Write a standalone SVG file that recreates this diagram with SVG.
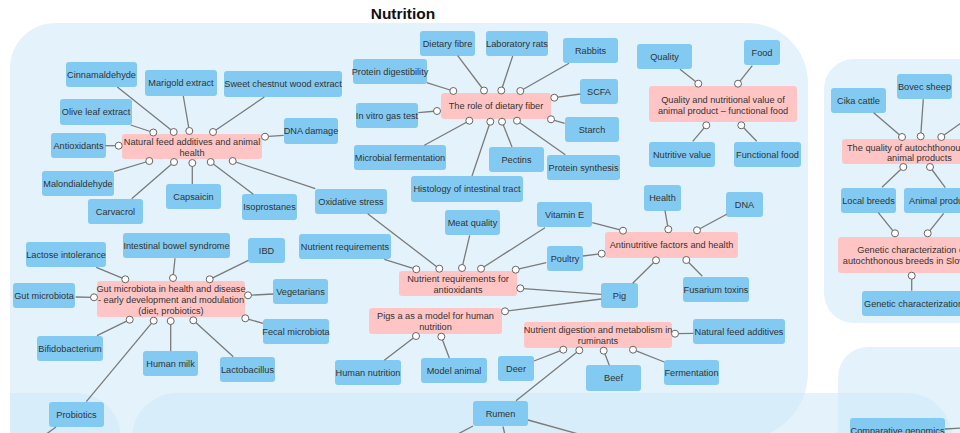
<svg xmlns="http://www.w3.org/2000/svg" width="960" height="433" viewBox="0 0 960 433">
<style>
.reg{fill:#e4f3fb}
.reg2{fill:#c9e7f7;fill-opacity:0.5}
.n rect{fill:#82caf1}
.p rect{fill:#ffc5c5}
text{font-family:"Liberation Sans",Arial,sans-serif;font-size:9.2px;fill:#333;text-anchor:middle}
.st{text-anchor:start}
.title{font-size:15.5px;font-weight:bold;fill:#111}
.c line{stroke:#7a7a7a;stroke-width:1.3}
.c circle{fill:#fff;stroke:#666;stroke-width:1}
</style>
<rect width="960" height="433" fill="#fff"/>
<g id="regions">
<path class="reg" d="M10,68 A45,45 0 0 1 55,23 H748 A60,60 0 0 1 808,83 V373 A66,66 0 0 1 742,439 H10 Z"/>
<rect class="reg" x="824" y="59" width="200" height="264" rx="30"/>
<rect class="reg2" x="838" y="347" width="200" height="150" rx="30"/>
<path class="reg2" d="M10,393 H76 A45,45 0 0 1 121,438 V450 H10 Z"/>
<path class="reg2" d="M132,450 V438 A45,45 0 0 1 177,393 H907 A45,45 0 0 1 952,438 V450 Z"/>
</g>
<text class="title" x="403" y="19">Nutrition</text>
<g id="nodes">
<g id="n-cinnamaldehyde" class="n"><rect x="66" y="62" width="71" height="25" rx="3"/><text x="101.5" y="77.8">Cinnamaldehyde</text></g>
<g id="n-marigold" class="n"><rect x="145" y="70" width="72" height="26" rx="3"/><text x="181" y="86.3">Marigold extract</text></g>
<g id="n-chestnut" class="n"><rect x="224" y="71" width="118" height="26" rx="3"/><text x="283" y="87.3">Sweet chestnut wood extract</text></g>
<g id="n-olive" class="n"><rect x="60" y="99" width="72" height="26" rx="3"/><text x="96" y="115.3">Olive leaf extract</text></g>
<g id="n-dnadamage" class="n"><rect x="284" y="118" width="54" height="26" rx="3"/><text x="311" y="134.3">DNA damage</text></g>
<g id="n-antioxidants" class="n"><rect x="51" y="133" width="55" height="25" rx="3"/><text x="78.5" y="148.8">Antioxidants</text></g>
<g id="n-malondialdehyde" class="n"><rect x="42" y="171" width="72" height="25" rx="3"/><text x="78" y="186.8">Malondialdehyde</text></g>
<g id="n-carvacrol" class="n"><rect x="88" y="199" width="55" height="25" rx="3"/><text x="115.5" y="214.8">Carvacrol</text></g>
<g id="n-capsaicin" class="n"><rect x="166" y="184" width="55" height="25" rx="3"/><text x="193.5" y="199.8">Capsaicin</text></g>
<g id="n-isoprostanes" class="n"><rect x="242" y="194" width="55" height="26" rx="3"/><text x="269.5" y="210.3">Isoprostanes</text></g>
<g id="n-oxidative" class="n"><rect x="315" y="189" width="72" height="25" rx="3"/><text x="351" y="204.8">Oxidative stress</text></g>
<g id="n-dietaryfibre" class="n"><rect x="420" y="31" width="55" height="25" rx="3"/><text x="447.5" y="46.8">Dietary fibre</text></g>
<g id="n-labrats" class="n"><rect x="486" y="31" width="62" height="25" rx="3"/><text x="517" y="46.8">Laboratory rats</text></g>
<g id="n-rabbits" class="n"><rect x="563" y="38" width="55" height="25" rx="3"/><text x="590.5" y="53.8">Rabbits</text></g>
<g id="n-protdig" class="n"><rect x="353" y="59" width="74" height="25" rx="3"/><text x="390" y="74.8">Protein digestibility</text></g>
<g id="n-scfa" class="n"><rect x="580" y="79" width="38" height="25" rx="3"/><text x="599" y="94.8">SCFA</text></g>
<g id="n-invitro" class="n"><rect x="356" y="103" width="62" height="25" rx="3"/><text x="387" y="118.8">In vitro gas test</text></g>
<g id="n-starch" class="n"><rect x="565" y="117" width="54" height="25" rx="3"/><text x="592" y="132.8">Starch</text></g>
<g id="n-microbial" class="n"><rect x="354" y="145" width="92" height="25" rx="3"/><text x="400" y="160.8">Microbial fermentation</text></g>
<g id="n-pectins" class="n"><rect x="489" y="147" width="55" height="25" rx="3"/><text x="516.5" y="162.8">Pectins</text></g>
<g id="n-protsyn" class="n"><rect x="547" y="155" width="73" height="25" rx="3"/><text x="583.5" y="170.8">Protein synthesis</text></g>
<g id="n-histology" class="n"><rect x="411" y="176" width="112" height="26" rx="3"/><text x="467" y="192.3">Histology of intestinal tract</text></g>
<g id="n-quality" class="n"><rect x="637" y="44" width="55" height="25" rx="3"/><text x="664.5" y="59.8">Quality</text></g>
<g id="n-food" class="n"><rect x="744" y="40" width="36" height="25" rx="3"/><text x="762" y="55.8">Food</text></g>
<g id="n-nutritive" class="n"><rect x="649" y="142" width="66" height="25" rx="3"/><text x="682" y="157.8">Nutritive value</text></g>
<g id="n-functional" class="n"><rect x="734" y="142" width="67" height="25" rx="3"/><text x="767.5" y="157.8">Functional food</text></g>
<g id="n-health" class="n"><rect x="644" y="185" width="37" height="26" rx="3"/><text x="662.5" y="201.3">Health</text></g>
<g id="n-dna" class="n"><rect x="726" y="192" width="37" height="25" rx="3"/><text x="744.5" y="207.8">DNA</text></g>
<g id="n-fusarium" class="n"><rect x="683" y="277" width="66" height="25" rx="3"/><text x="716" y="292.8">Fusarium toxins</text></g>
<g id="n-pig" class="n"><rect x="601" y="283" width="37" height="25" rx="3"/><text x="619.5" y="298.8">Pig</text></g>
<g id="n-vitamine" class="n"><rect x="537" y="202" width="55" height="25" rx="3"/><text x="564.5" y="217.8">Vitamin E</text></g>
<g id="n-poultry" class="n"><rect x="547" y="246" width="36" height="25" rx="3"/><text x="565" y="261.8">Poultry</text></g>
<g id="n-nfa2" class="n"><rect x="693" y="319" width="92" height="25" rx="3"/><text x="739" y="334.8">Natural feed additives</text></g>
<g id="n-deer" class="n"><rect x="498" y="356" width="36" height="25" rx="3"/><text x="516" y="371.8">Deer</text></g>
<g id="n-beef" class="n"><rect x="586" y="365" width="55" height="26" rx="3"/><text x="613.5" y="381.3">Beef</text></g>
<g id="n-fermentation" class="n"><rect x="664" y="360" width="55" height="25" rx="3"/><text x="691.5" y="375.8">Fermentation</text></g>
<g id="n-rumen" class="n"><rect x="473" y="401" width="55" height="25" rx="3"/><text x="500.5" y="416.8">Rumen</text></g>
<g id="n-meatquality" class="n"><rect x="445" y="210" width="55" height="25" rx="3"/><text x="472.5" y="225.8">Meat quality</text></g>
<g id="n-nutreq" class="n"><rect x="299" y="234" width="92" height="25" rx="3"/><text x="345" y="249.8">Nutrient requirements</text></g>
<g id="n-humannutrition" class="n"><rect x="335" y="360" width="66" height="25" rx="3"/><text x="368" y="375.8">Human nutrition</text></g>
<g id="n-modelanimal" class="n"><rect x="421" y="358" width="66" height="25" rx="3"/><text x="454" y="373.8">Model animal</text></g>
<g id="n-lactose" class="n"><rect x="26" y="242" width="80" height="25" rx="3"/><text x="66" y="257.8">Lactose intolerance</text></g>
<g id="n-ibs" class="n"><rect x="123" y="233" width="107" height="25" rx="3"/><text x="176.5" y="248.8">Intestinal bowel syndrome</text></g>
<g id="n-ibd" class="n"><rect x="248" y="238" width="37" height="25" rx="3"/><text x="266.5" y="253.8">IBD</text></g>
<g id="n-gutmicrobiota" class="n"><rect x="13" y="283" width="62" height="25" rx="3"/><text x="44" y="298.8">Gut microbiota</text></g>
<g id="n-vegetarians" class="n"><rect x="273" y="279" width="55" height="25" rx="3"/><text x="300.5" y="294.8">Vegetarians</text></g>
<g id="n-fecal" class="n"><rect x="263" y="319" width="66" height="25" rx="3"/><text x="296" y="334.8">Fecal microbiota</text></g>
<g id="n-bifido" class="n"><rect x="37" y="336" width="66" height="25" rx="3"/><text x="70" y="351.8">Bifidobacterium</text></g>
<g id="n-humanmilk" class="n"><rect x="143" y="351" width="55" height="25" rx="3"/><text x="170.5" y="366.8">Human milk</text></g>
<g id="n-lactobacillus" class="n"><rect x="220" y="357" width="55" height="25" rx="3"/><text x="247.5" y="372.8">Lactobacillus</text></g>
<g id="n-probiotics" class="n"><rect x="49" y="402" width="55" height="25" rx="3"/><text x="76.5" y="417.8">Probiotics</text></g>
<g id="n-cika" class="n"><rect x="831" y="88" width="55" height="25" rx="3"/><text x="858.5" y="103.8">Cika cattle</text></g>
<g id="n-bovec" class="n"><rect x="897" y="74" width="55" height="25" rx="3"/><text x="924.5" y="89.8">Bovec sheep</text></g>
<g id="n-localbreeds" class="n"><rect x="841" y="188" width="55" height="25" rx="3"/><text x="868.5" y="203.8">Local breeds</text></g>
<g id="n-animalproducts" class="n"><rect x="904" y="188" width="80" height="25" rx="3"/><text class="st" x="909" y="203.8">Animal products</text></g>
<g id="n-geneticchar" class="n"><rect x="862" y="291" width="110" height="25" rx="3"/><text class="st" x="864" y="306.8">Genetic characterization</text></g>
<g id="n-compgenomics" class="n"><rect x="850" y="418" width="95" height="25" rx="3"/><text x="897.5" y="433.8">Comparative genomics</text></g>

<g id="p-natural" class="p"><rect x="122" y="134" width="140" height="25" rx="3"/><text x="192" y="145"><tspan x="192">Natural feed additives and animal</tspan><tspan x="192" dy="11">health</tspan></text></g>
<g id="p-fiber" class="p"><rect x="441" y="93" width="110" height="26" rx="3"/><text x="496" y="109.3">The role of dietary fiber</text></g>
<g id="p-qualityvalue" class="p"><rect x="649" y="86" width="148" height="36" rx="3"/><text x="723" y="103.3"><tspan x="723">Quality and nutritional value of</tspan><tspan x="723" dy="10.8">animal product – functional food</tspan></text></g>
<g id="p-antinutritive" class="p"><rect x="605" y="232" width="133" height="26" rx="3"/><text x="671.5" y="248.3">Antinutritive factors and health</text></g>
<g id="p-nutreqanti" class="p"><rect x="399" y="271" width="118" height="25" rx="3"/><text x="458" y="282"><tspan x="458">Nutrient requirements for</tspan><tspan x="458" dy="11">antioxidants</tspan></text></g>
<g id="p-pigsmodel" class="p"><rect x="369" y="308" width="133" height="26" rx="3"/><text x="435.5" y="319.3"><tspan x="435.5">Pigs a as a model for human</tspan><tspan x="435.5" dy="11">nutrition</tspan></text></g>
<g id="p-ruminants" class="p"><rect x="524" y="322" width="148" height="26" rx="3"/><text x="598" y="333.3"><tspan x="598">Nutrient digestion and metabolism in</tspan><tspan x="598" dy="11">ruminants</tspan></text></g>
<g id="p-gut" class="p"><rect x="97" y="281" width="148" height="36" rx="3"/><text x="171" y="292"><tspan x="171">Gut microbiota in health and disease</tspan><tspan x="171" dy="11">- early development and modulation</tspan><tspan x="171" dy="11">(diet, probiotics)</tspan></text></g>
<g id="p-autochthonous" class="p"><rect x="842" y="139" width="156" height="25" rx="3"/><text class="st" x="847" y="150.6"><tspan x="847">The quality of autochthonous</tspan><tspan x="887" dy="10.7">animal products</tspan></text></g>
<g id="p-genetic" class="p"><rect x="838" y="237" width="148" height="36" rx="3"/><text x="912" y="253.3"><tspan x="912">Genetic characterization of</tspan><tspan x="912" dy="10.7">autochthonous breeds in Slovenia</tspan></text></g>
</g>
<g id="connectors" class="c">
<line x1="117.3" y1="87" x2="173.7" y2="132"/>
<line x1="130.7" y1="125" x2="153.3" y2="132.5"/>
<line x1="183.3" y1="96" x2="189.3" y2="131"/>
<line x1="264.3" y1="97" x2="213" y2="132"/>
<line x1="283.7" y1="135.3" x2="265" y2="136.7"/>
<line x1="105.3" y1="145.7" x2="118.7" y2="145.7"/>
<line x1="114" y1="171.7" x2="149.3" y2="161"/>
<line x1="131.7" y1="198.7" x2="174" y2="162"/>
<line x1="192.3" y1="184" x2="192.3" y2="163"/>
<line x1="253.3" y1="194.3" x2="210.7" y2="162"/>
<line x1="315.3" y1="188.7" x2="232.7" y2="161"/>
<line x1="426.7" y1="82.7" x2="453.3" y2="91"/>
<line x1="457.7" y1="55.7" x2="484" y2="90.5"/>
<line x1="512.7" y1="56" x2="501.3" y2="90.5"/>
<line x1="569" y1="63.3" x2="520.3" y2="91"/>
<line x1="580.3" y1="94" x2="554.3" y2="97.7"/>
<line x1="564.7" y1="123.3" x2="551" y2="119.3"/>
<line x1="418.3" y1="112.7" x2="437" y2="111"/>
<line x1="424.3" y1="145.3" x2="469.3" y2="120.7"/>
<line x1="472" y1="176" x2="490.3" y2="121.7"/>
<line x1="512" y1="147" x2="502" y2="121.7"/>
<line x1="565.3" y1="154.7" x2="517" y2="120.7"/>
<line x1="680" y1="69.3" x2="698.3" y2="83.7"/>
<line x1="752.3" y1="65.7" x2="738" y2="83.7"/>
<line x1="692.7" y1="141.3" x2="706.3" y2="125.3"/>
<line x1="756.7" y1="141.3" x2="741.3" y2="125.3"/>
<line x1="592.3" y1="222.7" x2="623" y2="230.7"/>
<line x1="665" y1="210.7" x2="668.3" y2="229.3"/>
<line x1="726.7" y1="214.3" x2="697" y2="230.3"/>
<line x1="583" y1="256" x2="601.7" y2="253.7"/>
<line x1="632.7" y1="283.3" x2="656" y2="260.3"/>
<line x1="702.3" y1="276.3" x2="686.3" y2="260"/>
<line x1="384.3" y1="259.3" x2="416.3" y2="269.3"/>
<line x1="367.7" y1="213.7" x2="439.3" y2="268.7"/>
<line x1="469.7" y1="235.3" x2="462" y2="268"/>
<line x1="545" y1="227.7" x2="481" y2="268.7"/>
<line x1="546.3" y1="262.7" x2="515.7" y2="269.7"/>
<line x1="601.3" y1="294.3" x2="520.3" y2="288.3"/>
<line x1="601.3" y1="299" x2="505" y2="311.3"/>
<line x1="384.3" y1="360.3" x2="416" y2="336"/>
<line x1="449.3" y1="358" x2="441.3" y2="336.7"/>
<line x1="693.3" y1="333.3" x2="675" y2="333.7"/>
<line x1="534" y1="361" x2="563.3" y2="349.7"/>
<line x1="516" y1="400.7" x2="579.3" y2="350.3"/>
<line x1="609.3" y1="365.3" x2="603.7" y2="350.7"/>
<line x1="664.3" y1="362" x2="633" y2="349.7"/>
<line x1="96.3" y1="267.3" x2="125.3" y2="279.3"/>
<line x1="175" y1="258.3" x2="173" y2="278"/>
<line x1="248.3" y1="260.3" x2="209.7" y2="279.3"/>
<line x1="75.7" y1="297" x2="94" y2="297.3"/>
<line x1="273.3" y1="294" x2="248" y2="295.3"/>
<line x1="263" y1="323.3" x2="245.3" y2="318.3"/>
<line x1="97" y1="335.7" x2="129.7" y2="319.7"/>
<line x1="86.3" y1="401.7" x2="153.7" y2="320.7"/>
<line x1="170.7" y1="351" x2="170.7" y2="321"/>
<line x1="233.3" y1="356.7" x2="193.3" y2="320.3"/>
<line x1="873.7" y1="112.7" x2="902" y2="137"/>
<line x1="923.3" y1="99.3" x2="920.7" y2="136.3"/>
<line x1="962" y1="122.3" x2="941.3" y2="137"/>
<line x1="882" y1="187.3" x2="903.3" y2="167"/>
<line x1="945.3" y1="187.7" x2="930" y2="167"/>
<line x1="878.3" y1="212.7" x2="895" y2="233.3"/>
<line x1="943.7" y1="213.3" x2="927.7" y2="233.3"/>
<line x1="911.7" y1="290.7" x2="911.7" y2="275.7"/>
<line x1="56" y1="427" x2="45" y2="435"/>
<line x1="473" y1="426" x2="456" y2="435"/>
<line x1="503" y1="426.5" x2="505" y2="435"/>
<line x1="528" y1="420" x2="582" y2="435"/>
<line x1="945" y1="429" x2="962" y2="428"/>
<circle cx="173.7" cy="132" r="3.5"/><circle cx="153.3" cy="132.5" r="3.5"/><circle cx="189.3" cy="131" r="3.5"/><circle cx="213" cy="132" r="3.5"/><circle cx="265" cy="136.7" r="3.5"/><circle cx="118.7" cy="145.7" r="3.5"/><circle cx="149.3" cy="161" r="3.5"/><circle cx="174" cy="162" r="3.5"/><circle cx="192.3" cy="163" r="3.5"/><circle cx="210.7" cy="162" r="3.5"/><circle cx="232.7" cy="161" r="3.5"/>
<circle cx="453.3" cy="91" r="3.5"/><circle cx="484" cy="90.5" r="3.5"/><circle cx="501.3" cy="90.5" r="3.5"/><circle cx="520.3" cy="91" r="3.5"/><circle cx="554.3" cy="97.7" r="3.5"/><circle cx="551" cy="119.3" r="3.5"/><circle cx="437" cy="111" r="3.5"/><circle cx="469.3" cy="120.7" r="3.5"/><circle cx="490.3" cy="121.7" r="3.5"/><circle cx="502" cy="121.7" r="3.5"/><circle cx="517" cy="120.7" r="3.5"/>
<circle cx="698.3" cy="83.7" r="3.5"/><circle cx="738" cy="83.7" r="3.5"/><circle cx="706.3" cy="125.3" r="3.5"/><circle cx="741.3" cy="125.3" r="3.5"/>
<circle cx="623" cy="230.7" r="3.5"/><circle cx="668.3" cy="229.3" r="3.5"/><circle cx="697" cy="230.3" r="3.5"/><circle cx="601.7" cy="253.7" r="3.5"/><circle cx="656" cy="260.3" r="3.5"/><circle cx="686.3" cy="260" r="3.5"/>
<circle cx="416.3" cy="269.3" r="3.5"/><circle cx="439.3" cy="268.7" r="3.5"/><circle cx="462" cy="268" r="3.5"/><circle cx="481" cy="268.7" r="3.5"/><circle cx="515.7" cy="269.7" r="3.5"/><circle cx="520.3" cy="288.3" r="3.5"/>
<circle cx="505" cy="311.3" r="3.5"/><circle cx="416" cy="336" r="3.5"/><circle cx="441.3" cy="336.7" r="3.5"/>
<circle cx="675" cy="333.7" r="3.5"/><circle cx="563.3" cy="349.7" r="3.5"/><circle cx="579.3" cy="350.3" r="3.5"/><circle cx="603.7" cy="350.7" r="3.5"/><circle cx="633" cy="349.7" r="3.5"/>
<circle cx="125.3" cy="279.3" r="3.5"/><circle cx="173" cy="278" r="3.5"/><circle cx="209.7" cy="279.3" r="3.5"/><circle cx="94" cy="297.3" r="3.5"/><circle cx="248" cy="295.3" r="3.5"/><circle cx="245.3" cy="318.3" r="3.5"/><circle cx="129.7" cy="319.7" r="3.5"/><circle cx="153.7" cy="320.7" r="3.5"/><circle cx="170.7" cy="321" r="3.5"/><circle cx="193.3" cy="320.3" r="3.5"/>
<circle cx="902" cy="137" r="3.5"/><circle cx="920.7" cy="136.3" r="3.5"/><circle cx="941.3" cy="137" r="3.5"/><circle cx="903.3" cy="167" r="3.5"/><circle cx="930" cy="167" r="3.5"/>
<circle cx="895" cy="233.3" r="3.5"/><circle cx="927.7" cy="233.3" r="3.5"/><circle cx="911.7" cy="275.7" r="3.5"/>
</g>
</svg>
